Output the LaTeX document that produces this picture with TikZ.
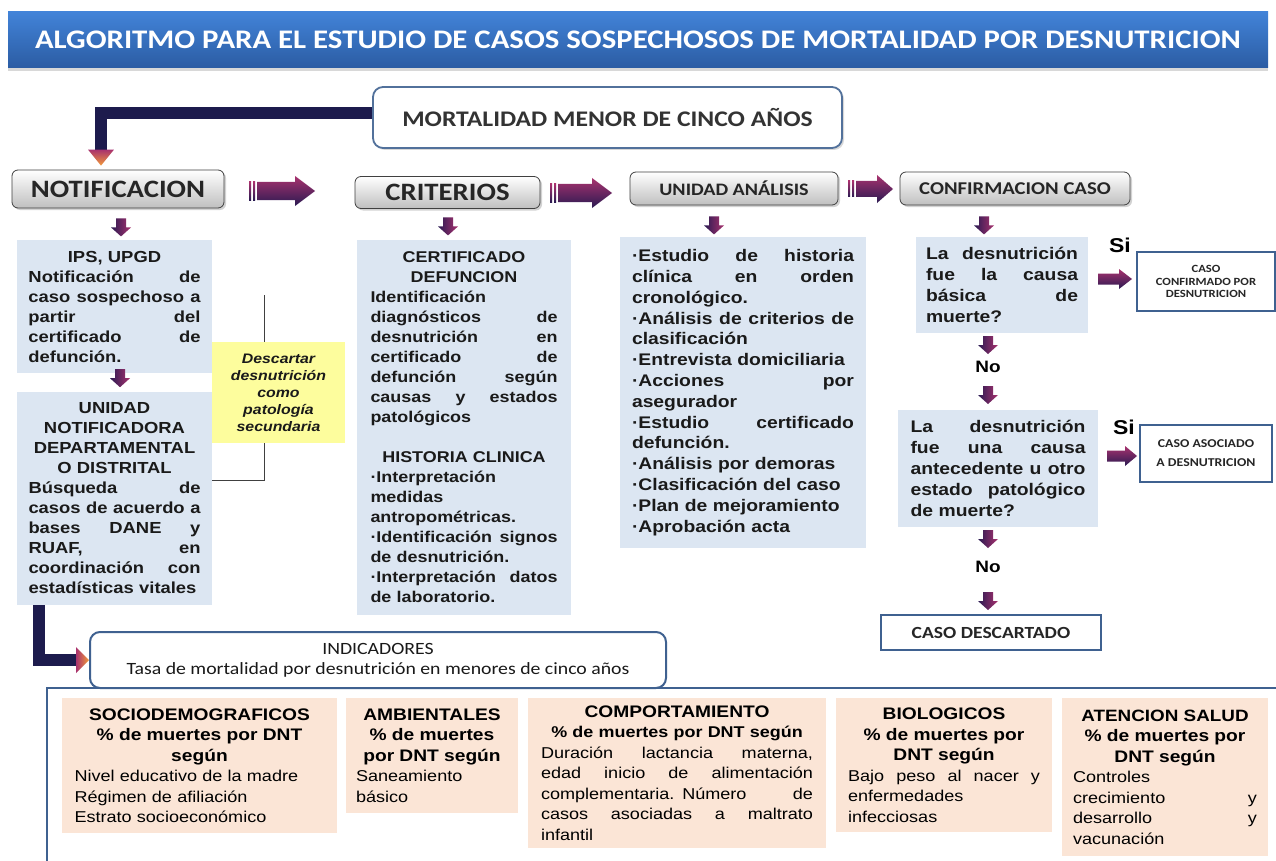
\documentclass[tikz,border=0pt]{standalone}
\usepackage{fontspec}
\usetikzlibrary{shadows,calc}
\newfontfamily\arialS[FakeStretch=1.15]{Liberation Sans}
\newfontfamily\calS[FakeStretch=1.15]{Carlito}
\definecolor{bluebox}{HTML}{DCE6F2}
\definecolor{peach}{HTML}{FBE5D6}
\definecolor{yelbox}{HTML}{FDFD9D}
\definecolor{frameblue}{HTML}{3F6190}
\definecolor{amag}{HTML}{A8326E}
\definecolor{anavy}{HTML}{2A1A52}
\definecolor{lnavy}{HTML}{1D1B4D}
\definecolor{aorange}{HTML}{F39A3A}
\definecolor{ttop}{HTML}{4283D8}
\definecolor{tbot}{HTML}{2B5CA3}
\definecolor{txt}{HTML}{1A1A1A}
\newcommand{\J}[1]{{\spaceskip=\fontdimen2\font plus 1fil\relax\makebox[\hsize][s]{#1}}}
\newcommand{\C}[1]{\makebox[\hsize][c]{#1}}
\tikzset{
  graybox/.style={rectangle, rounded corners=6, draw=black!75, line width=0.8,
    top color=white, bottom color=black!25,
    drop shadow={opacity=0.35,shadow xshift=2pt,shadow yshift=-2pt},
    font=\calS\bfseries, text=black!85, inner sep=0},
  bluebox/.style={rectangle, fill=bluebox, inner sep=0, text=txt, align=left},
  peachbox/.style={rectangle, fill=peach, inner sep=0, text=black, align=left,
    font=\arialS\fontsize{15.7}{20.5}\selectfont},
  casobox/.style={rectangle, draw=frameblue, line width=1.8, fill=white,
    font=\calS\bfseries, align=center, text=black!85, inner sep=0},
  lconn/.style={draw=lnavy, line width=12, line join=miter},
  lbl/.style={font=\arialS\bfseries, text=black, inner sep=0},
  pics/dnarrow/.style={code={
    \shade[left color=anavy, right color=amag] (-5,0) -- (5,0) -- (5,9) -- (10,9) -- (0,18) -- (-10,9) -- (-5,9) -- cycle;
  }},
  pics/rtarrow/.style n args={4}{code={
    \shade[top color=amag, bottom color=anavy] (0,-#3) -- ({#1-#2},-#3) -- ({#1-#2},-#4) -- (#1,0) -- ({#1-#2},#4) -- ({#1-#2},#3) -- (0,#3) -- cycle;
  }},
  pics/bigarrow/.style n args={4}{code={
    \shade[top color=amag, bottom color=anavy] (0,-#3) rectangle (2.2,#3);
    \shade[top color=amag, bottom color=anavy] (4,-#3) rectangle (6,#3);
    \shade[top color=amag, bottom color=anavy] (8,-#3) -- ({#1-#2},-#3) -- ({#1-#2},-#4) -- (#1,0) -- ({#1-#2},#4) -- ({#1-#2},#3) -- (8,#3) -- cycle;
  }},
  pics/headdown/.style={code={
    \shade[top color=amag, bottom color=aorange] (-13,0) -- (13,0) -- (0,16) -- cycle;
  }},
  pics/headright/.style={code={
    \shade[left color=amag, right color=aorange] (0,-13) -- (0,13) -- (13,0) -- cycle;
  }},
}
\begin{document}
\begin{tikzpicture}[x=1pt,y=-1pt]
\useasboundingbox (0,0) rectangle (1276,861);
\fill[white] (0,0) rectangle (1276,861);

% title
\node[rectangle, top color=ttop, bottom color=tbot, minimum width=1260, minimum height=56, inner sep=0,
  drop shadow={opacity=0.3,shadow xshift=0pt,shadow yshift=-3pt},
  text=white, font=\calS\bfseries\fontsize{26.8}{30}\selectfont] (title) at (638,40)
  {ALGORITMO PARA EL ESTUDIO DE CASOS SOSPECHOSOS DE MORTALIDAD POR DESNUTRICION};

% top box
\node[rectangle, rounded corners=10, draw=frameblue!90, line width=1.8, fill=white,
  minimum width=469, minimum height=61, inner sep=0,
  drop shadow={opacity=0.3,shadow xshift=2pt,shadow yshift=-2pt},
  text=black!80, font=\calS\bfseries\fontsize{22.3}{26}\selectfont] (mort) at (607.5,117.5)
  {MORTALIDAD MENOR DE CINCO AÑOS};

% header row
\node[graybox, minimum width=212, minimum height=38, font=\calS\bfseries\fontsize{25}{28}\selectfont] (notif) at (118,189) {NOTIFICACION};
\node[graybox, minimum width=185, minimum height=32, font=\calS\bfseries\fontsize{25}{28}\selectfont] (crit) at (447.5,192.5) {CRITERIOS};
\node[graybox, minimum width=208, minimum height=33, font=\calS\bfseries\fontsize{17.5}{20}\selectfont] (ua) at (734,188.5) {UNIDAD ANÁLISIS};
\node[graybox, minimum width=230, minimum height=33, font=\calS\bfseries\fontsize{18}{20}\selectfont] (conf) at (1015,188.5) {CONFIRMACION CASO};

% L connector from top box
\coordinate (Lc1) at ($(notif.north)+(-17,-20)$);
\draw[lconn] ([yshift=4pt]mort.west) -| (Lc1);
\pic at (Lc1) {headdown};

% block arrows between headers
\pic at (249,191) {bigarrow={66}{20}{9}{15}};
\pic at (550,193) {bigarrow={62}{20}{9}{15}};
\pic at (848,189) {bigarrow={45}{16}{8}{14}};

% column 1
\node[bluebox, minimum width=195, minimum height=133, text width=172,
  font=\arialS\bfseries\fontsize{16}{20}\selectfont] (ips) at (114.5,306.5)
  {\C{IPS, UPGD}\\ \J{Notificación de}\\ \J{caso sospechoso a}\\ \J{partir del}\\ \J{certificado de}\\ defunción.};
\node[bluebox, minimum width=195, minimum height=213, text width=172,
  font=\arialS\bfseries\fontsize{16}{20}\selectfont] (unot) at (114.5,498.5)
  {\C{UNIDAD}\\ \C{NOTIFICADORA}\\ \C{DEPARTAMENTAL}\\ \C{O DISTRITAL}\\ \J{Búsqueda de}\\ \J{casos de acuerdo a}\\ \J{bases DANE y}\\ \J{RUAF, en}\\ \J{coordinación con}\\ estadísticas vitales};
\node[rectangle, fill=yelbox, minimum width=133, minimum height=101, inner sep=0, align=center,
  text=txt, font=\arialS\bfseries\itshape\fontsize{13.8}{17}\selectfont] (yel) at (278.5,392.5)
  {Descartar\\ desnutrición\\ como\\ patología\\ secundaria};
\pic at ($(notif.south)+(3,10)$) {dnarrow};
\pic at ($(ips.south)+(5.5,-4)$) {dnarrow};

% bracket
\coordinate (bk1) at (264,295);
\coordinate (bk2) at (264,480);
\draw[black!75, line width=0.8] (bk1) -- (bk1 |- yel.north);
\draw[black!75, line width=0.8] (bk1 |- yel.south) -- (bk2) -- (bk2 -| unot.east);

% column 2
\node[bluebox, minimum width=214, minimum height=375, text width=187,
  font=\arialS\bfseries\fontsize{15.6}{20}\selectfont] (cert) at (464,427.5)
  {\C{CERTIFICADO}\\ \C{DEFUNCION}\\ Identificación\\ \J{diagnósticos de}\\ \J{desnutrición en}\\ \J{certificado de}\\ \J{defunción según}\\ \J{causas y estados}\\ patológicos\\ \mbox{}\\ \C{HISTORIA CLINICA}\\ ·Interpretación\\ medidas\\ antropométricas.\\ \J{·Identificación signos}\\ de desnutrición.\\ \J{·Interpretación datos}\\ de laboratorio.};
\pic at ($(crit.south)+(0.5,8.5)$) {dnarrow};

% column 3
\node[bluebox, minimum width=246, minimum height=311, text width=222,
  font=\arialS\bfseries\fontsize{16.8}{20.8}\selectfont] (uabox) at (743,392.5)
  {\J{·Estudio de historia}\\ \J{clínica en orden}\\ cronológico.\\ \J{·Análisis de criterios de}\\ clasificación\\ ·Entrevista domiciliaria\\ \J{·Acciones por}\\ asegurador\\ \J{·Estudio certificado}\\ defunción.\\ ·Análisis por demoras\\ ·Clasificación del caso\\ ·Plan de mejoramiento\\ ·Aprobación acta};
\pic at ($(ua.south)+(-20,11)$) {dnarrow};

% column 4
\pic at ($(conf.south)+(-31,11)$) {dnarrow};
\node[bluebox, minimum width=172, minimum height=96, text width=152,
  font=\arialS\bfseries\fontsize{16.8}{20.8}\selectfont] (q1) at (1002,285)
  {\J{La desnutrición}\\ \J{fue la causa}\\ \J{básica de}\\ muerte?};
\node[lbl, font=\arialS\bfseries\fontsize{20}{22}\selectfont] (si1) at (1120,245) {Si};
\pic at (1098,279) {rtarrow={34}{13}{5.5}{10}};
\node[casobox, minimum width=138, minimum height=59, font=\calS\bfseries\fontsize{11}{12.5}\selectfont] (cc) at (1206,281.5)
  {CASO\\ CONFIRMADO POR\\ DESNUTRICION};

\pic at (988,336) {dnarrow};
\node[lbl, font=\arialS\bfseries\fontsize{16.5}{18}\selectfont] (no1) at (988,367) {No};
\pic at (988,386) {dnarrow};

\node[bluebox, minimum width=200, minimum height=117, text width=175,
  font=\arialS\bfseries\fontsize{16.8}{20.8}\selectfont] (q2) at (998,468.5)
  {\J{La desnutrición}\\ \J{fue una causa}\\ \J{antecedente u otro}\\ \J{estado patológico}\\ de muerte?};
\node[lbl, font=\arialS\bfseries\fontsize{20}{22}\selectfont] (si2) at (1124,427) {Si};
\pic at (1107,456) {rtarrow={30}{12}{5.5}{10}};
\node[casobox, minimum width=132, minimum height=57, font=\calS\bfseries\fontsize{12}{19}\selectfont] (ca) at (1206,453.5)
  {CASO ASOCIADO\\ A DESNUTRICION};

\pic at (988,530) {dnarrow};
\node[lbl, font=\arialS\bfseries\fontsize{16.5}{18}\selectfont] (no2) at (988,567) {No};
\pic at (988,592) {dnarrow};
\node[casobox, minimum width=220, minimum height=35, font=\calS\bfseries\fontsize{17}{20}\selectfont] (cd) at (991,632.5) {CASO DESCARTADO};

% bottom frame
\draw[frameblue, line width=2] (47,870) -- (47,688) -- (1285,688);

% indicadores
\node[rectangle, rounded corners=10, draw=frameblue, line width=2, fill=white,
  minimum width=576, minimum height=56, inner sep=0, align=center, text=black!90,
  font=\calS\fontsize{17.2}{20}\selectfont] (ind) at (378,660)
  {INDICADORES\\ Tasa de mortalidad por desnutrición en menores de cinco años};

% bottom L connector
\coordinate (Lb0) at ([xshift=22pt]unot.south west);
\coordinate (Lb1) at ($(ind.west)+(-13,0)$);
\draw[lconn] (Lb0) |- (Lb1);
\pic at (Lb1) {headright};

% peach boxes
\node[peachbox, minimum width=275, minimum height=135, text width=250] (soc) at (199.5,765.5)
  {\C{\bfseries\fontsize{16.7}{20.5}\selectfont SOCIODEMOGRAFICOS}\\
   \C{\bfseries\fontsize{16.7}{20.5}\selectfont \% de muertes por DNT}\\
   \C{\bfseries\fontsize{16.7}{20.5}\selectfont según}\\
   Nivel educativo de la madre\\ Régimen de afiliación\\ Estrato socioeconómico};
\node[peachbox, minimum width=172, minimum height=115, text width=152] (amb) at (432,755.5)
  {\C{\bfseries\fontsize{16.7}{20.5}\selectfont AMBIENTALES}\\
   \C{\bfseries\fontsize{16.7}{20.5}\selectfont \% de muertes}\\
   \C{\bfseries\fontsize{16.7}{20.5}\selectfont por DNT según}\\
   Saneamiento\\ básico};
\node[peachbox, minimum width=298, minimum height=150, text width=272] (comp) at (677,773)
  {\C{\bfseries\fontsize{16.7}{20.5}\selectfont COMPORTAMIENTO}\\
   \C{\bfseries\fontsize{15.6}{20.5}\selectfont \% de muertes por DNT según}\\
   \J{Duración lactancia materna,}\\ \J{edad inicio de alimentación}\\ \J{complementaria. Número de}\\ \J{casos asociadas a maltrato}\\ infantil};
\node[peachbox, minimum width=216, minimum height=134, text width=192] (bio) at (944,765)
  {\C{\bfseries\fontsize{16.7}{20.5}\selectfont BIOLOGICOS}\\
   \C{\bfseries\fontsize{16.7}{20.5}\selectfont \% de muertes por}\\
   \C{\bfseries\fontsize{16.7}{20.5}\selectfont DNT según}\\
   \J{Bajo peso al nacer y}\\ enfermedades\\ infecciosas};
\node[peachbox, minimum width=206, minimum height=158, text width=184] (ate) at (1165,777)
  {\C{\bfseries\fontsize{16.4}{20.5}\selectfont ATENCION SALUD}\\
   \C{\bfseries\fontsize{16.7}{20.5}\selectfont \% de muertes por}\\
   \C{\bfseries\fontsize{16.7}{20.5}\selectfont DNT según}\\
   Controles\\ \J{crecimiento y}\\ \J{desarrollo y}\\ vacunación};
\end{tikzpicture}
\end{document}
